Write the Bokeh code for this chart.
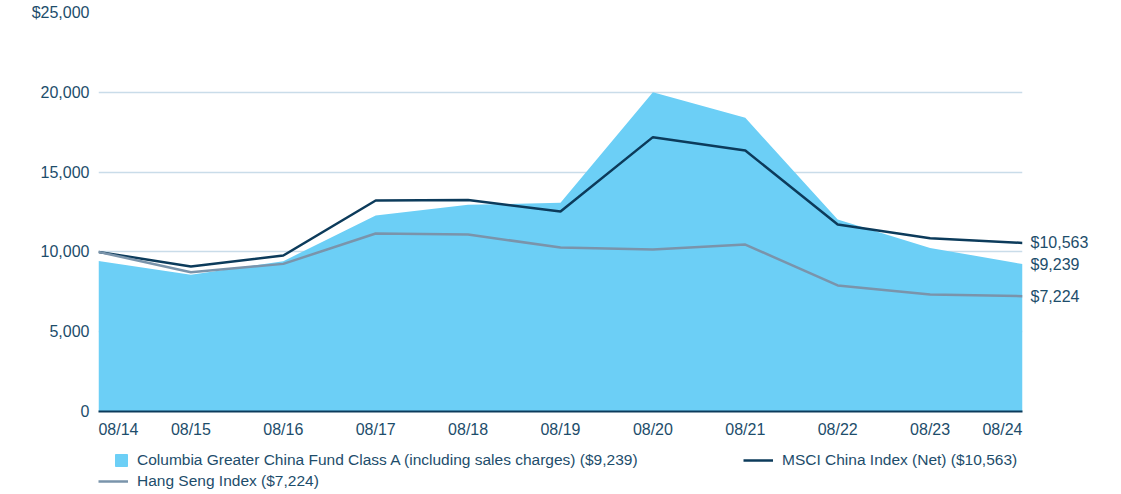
from bokeh.plotting import figure
from bokeh.models import Range1d, FixedTicker, Legend, LegendItem, ColumnDataSource, LinearAxis
from bokeh.layouts import column
from bokeh.embed import file_html
from bokeh.resources import INLINE

categories = ["08/14", "08/15", "08/16", "08/17", "08/18", "08/19", "08/20", "08/21", "08/22", "08/23", "08/24"]
fund = [9425, 8565, 9420, 12280, 12950, 13075, 20010, 18400, 12030, 10250, 9239]
msci = [10000, 9085, 9775, 13220, 13250, 12530, 17190, 16350, 11720, 10850, 10563]
hang_seng = [10000, 8730, 9250, 11150, 11090, 10275, 10150, 10460, 7900, 7330, 7224]
y_ticks = [0, 5000, 10000, 15000, 20000, 25000]
y_tick_labels = ["0", "5,000", "10,000", "15,000", "20,000", "$25,000"]
fund_name = "Columbia Greater China Fund Class A (including sales charges) ($9,239)"
msci_name = "MSCI China Index (Net) ($10,563)"
hs_name = "Hang Seng Index ($7,224)"
end_labels = ["$10,563", "$9,239", "$7,224"]

FILL = "#6ccff6"
NAVY = "#0c3b5b"
GREY = "#7a94ab"
TEXT = "#1d4d6b"
GRID = "#c9dce9"
FONT = "Liberation Sans"

W = 1113
BL, BR = 98, 91
FRAME_W = W - BL - BR
n = len(categories)
x = list(range(n))
src = ColumnDataSource(dict(x=x, fund=fund, msci=msci, hs=hang_seng))

p = figure(width=W, height=445, output_backend="svg", toolbar_location=None,
           x_range=Range1d(0, n - 1), y_range=Range1d(0, 25000),
           min_border_left=BL, min_border_right=BR, min_border_top=12, min_border_bottom=34)
p.outline_line_color = None

p.varea(x="x", y1=0, y2="fund", source=src, fill_color=FILL)
p.line(x="x", y="msci", source=src, line_color=NAVY, line_width=2.5)
p.line(x="x", y="hs", source=src, line_color=GREY, line_width=2.5)

# grid / y axis
p.xgrid.visible = False
p.ygrid.grid_line_color = GRID
p.ygrid.grid_line_width = 1.5
p.ygrid.ticker = FixedTicker(ticks=y_ticks)

p.yaxis.ticker = FixedTicker(ticks=y_ticks)
p.yaxis.major_label_overrides = {t: lab for t, lab in zip(y_ticks, y_tick_labels)}
p.yaxis.axis_line_color = None
p.yaxis.major_tick_line_color = None
p.yaxis.minor_tick_line_color = None
p.yaxis.major_label_standoff = 3
p.yaxis.major_label_text_font = FONT
p.yaxis.major_label_text_font_size = "16px"
p.yaxis.major_label_text_color = TEXT

# x axis: first and last labels kept inside the frame edges
inset = 20 * (n - 1) / FRAME_W
x_ticks = [x[0] + inset] + x[1:-1] + [x[-1] - inset]
p.xaxis.ticker = FixedTicker(ticks=x_ticks)
p.xaxis.major_label_overrides = {t: c for t, c in zip(x_ticks, categories)}
p.xaxis.axis_line_color = NAVY
p.xaxis.axis_line_width = 2
p.xaxis.major_tick_line_color = None
p.xaxis.minor_tick_line_color = None
p.xaxis.major_label_standoff = 3
p.xaxis.major_label_text_font = FONT
p.xaxis.major_label_text_font_size = "16px"
p.xaxis.major_label_text_color = TEXT

# end values on a right axis
end_vals = [msci[-1], fund[-1], hang_seng[-1]]
ra = LinearAxis(ticker=FixedTicker(ticks=end_vals),
                major_label_overrides={v: t for v, t in zip(end_vals, end_labels)},
                axis_line_color=None, major_tick_line_color=None, minor_tick_line_color=None,
                major_label_standoff=2, major_label_text_font=FONT,
                major_label_text_font_size="16px", major_label_text_color=TEXT)
p.add_layout(ra, "right")

# legend figure
LH = 47
lf = figure(width=W, height=LH, output_backend="svg", toolbar_location=None,
            x_range=Range1d(0, 1), y_range=Range1d(0, 1), x_axis_type=None, y_axis_type=None,
            min_border_left=0, min_border_right=0, min_border_top=0, min_border_bottom=0)
lf.outline_line_color = None
lf.xgrid.visible = False
lf.ygrid.visible = False
sq = lf.scatter(x=[-10], y=[-10], marker="square", size=12, fill_color=FILL, line_color=FILL)
lm = lf.line(x=[-10, -11], y=[-10, -11], line_color=NAVY, line_width=2.5)
lh = lf.line(x=[-10, -11], y=[-10, -11], line_color=GREY, line_width=2.5)

def mk_legend(items, loc, gw=30, gh=20, standoff=9):
    return Legend(items=items, location=loc, orientation="vertical",
                  padding=0, margin=0, spacing=0, border_line_color=None,
                  background_fill_alpha=0, glyph_width=gw, glyph_height=gh,
                  label_height=gh, label_standoff=standoff,
                  label_text_font=FONT, label_text_font_size="15.5px",
                  label_text_color=TEXT, label_text_baseline="middle")

lf.add_layout(mk_legend([LegendItem(label=fund_name, renderers=[sq])], (8, 17), gw=30, gh=30, standoff=1), "center")
lf.add_layout(mk_legend([LegendItem(label=hs_name, renderers=[lh])], (0, 1)), "center")
lf.add_layout(mk_legend([LegendItem(label=msci_name, renderers=[lm])], (645, 22)), "center")

layout = column(p, lf, spacing=0)
open("out.html", "w").write(file_html(layout, INLINE))
